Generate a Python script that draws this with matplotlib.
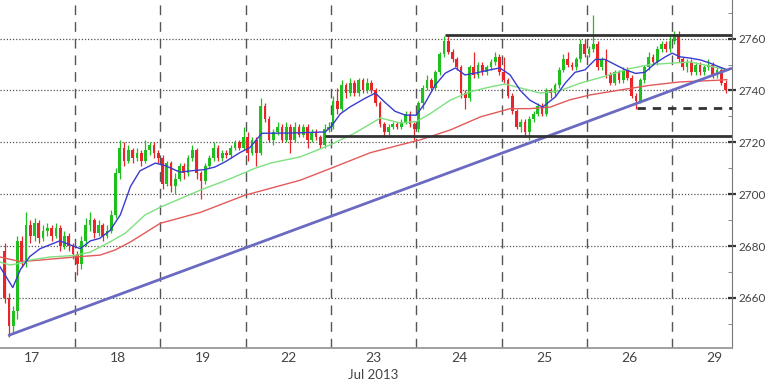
import numpy as np
import matplotlib.pyplot as plt

plt.rcParams['font.family'] = ['Lato', 'DejaVu Sans']

# trading days shown, candles per day (first day is cut by the left edge)
days = ['17', '18', '19', '22', '23', '24', '25', '26', '29']
per_day = 20
first_slot = 3
first_open = 2678

closes = [
    2660, 2649, 2655, 2682, 2674, 2688, 2684, 2689, 2683, 2686, 2687, 2684, 2687, 2680, 2684, 2680, 2677,
    2673, 2682, 2688, 2690, 2685, 2688, 2684, 2686, 2692, 2708, 2718, 2713, 2717, 2714, 2716, 2713, 2717, 2719, 2716, 2714,
    2704, 2712, 2703, 2706, 2711, 2708, 2714, 2717, 2708, 2705, 2711, 2714, 2718, 2714, 2716, 2715, 2718, 2720, 2718, 2722,
    2716, 2721, 2716, 2734, 2729, 2721, 2724, 2726, 2721, 2726, 2721, 2726, 2723, 2726, 2721, 2724, 2722, 2719, 2725, 2726,
    2736, 2733, 2742, 2739, 2743, 2739, 2744, 2740, 2743, 2740, 2735, 2727, 2724, 2726, 2727, 2726, 2728, 2731, 2727, 2725,
    2735, 2741, 2744, 2741, 2747, 2754, 2759, 2755, 2752, 2749, 2739, 2737, 2749, 2746, 2750, 2747, 2749, 2751, 2753, 2747,
    2744, 2738, 2732, 2726, 2728, 2724, 2729, 2731, 2734, 2731, 2740, 2739, 2742, 2748, 2752, 2750, 2749, 2752, 2758, 2754,
    2756, 2758, 2749, 2752, 2746, 2743, 2747, 2744, 2748, 2745, 2738, 2736, 2744, 2749, 2753, 2751, 2756, 2758, 2756, 2759,
    2761, 2752, 2749, 2751, 2747, 2750, 2747, 2749, 2750, 2746, 2748, 2743, 2740,
]
highs = [
    2681, 2662, 2657, 2684, 2684, 2693, 2690, 2691, 2690, 2688, 2689, 2688, 2689, 2688, 2686, 2685, 2681,
    2678, 2684, 2691, 2693, 2691, 2690, 2689, 2688, 2694, 2710, 2721, 2720, 2719, 2718, 2718, 2717, 2721, 2720, 2720, 2717,
    2715, 2713, 2713, 2708, 2712, 2712, 2715, 2719, 2718, 2709, 2712, 2715, 2720, 2719, 2717, 2717, 2719, 2721, 2721, 2726,
    2724, 2722, 2722, 2737, 2735, 2730, 2725, 2728, 2727, 2728, 2727, 2728, 2727, 2727, 2727, 2725, 2725, 2723, 2727, 2728,
    2738, 2741, 2744, 2743, 2745, 2744, 2745, 2745, 2745, 2744, 2741, 2736, 2728, 2727, 2728, 2728, 2729, 2732, 2732, 2728,
    2736, 2742, 2746, 2745, 2748, 2755, 2761, 2761, 2756, 2753, 2750, 2740, 2750, 2755, 2751, 2751, 2750, 2752, 2755, 2754,
    2753, 2745, 2739, 2733, 2729, 2729, 2730, 2732, 2735, 2735, 2741, 2741, 2743, 2749, 2754, 2755, 2751, 2753, 2760, 2760,
    2757, 2769, 2759, 2753, 2756, 2747, 2748, 2748, 2749, 2749, 2746, 2739, 2745, 2750, 2755, 2754, 2757, 2759, 2759, 2761,
    2763, 2763, 2753, 2752, 2752, 2751, 2751, 2750, 2752, 2751, 2749, 2749, 2744,
]
lows = [
    2658, 2645, 2647, 2652, 2672, 2672, 2681, 2682, 2681, 2682, 2684, 2682, 2683, 2678, 2679, 2678, 2675,
    2669, 2671, 2680, 2686, 2683, 2684, 2682, 2683, 2685, 2691, 2706, 2711, 2712, 2712, 2713, 2711, 2712, 2715, 2714, 2712,
    2702, 2703, 2701, 2700, 2705, 2706, 2707, 2713, 2706, 2698, 2704, 2710, 2713, 2713, 2713, 2714, 2714, 2717, 2717, 2717,
    2713, 2715, 2711, 2715, 2728, 2720, 2719, 2723, 2720, 2720, 2716, 2720, 2722, 2722, 2718, 2720, 2721, 2718, 2718, 2724,
    2725, 2731, 2732, 2737, 2738, 2738, 2738, 2739, 2739, 2739, 2734, 2726, 2722, 2723, 2725, 2725, 2725, 2727, 2726, 2721,
    2724, 2733, 2740, 2740, 2740, 2746, 2753, 2754, 2751, 2748, 2737, 2733, 2736, 2745, 2745, 2746, 2746, 2748, 2750, 2746,
    2743, 2737, 2731, 2725, 2724, 2722, 2721, 2728, 2730, 2730, 2730, 2737, 2738, 2741, 2747, 2749, 2748, 2748, 2751, 2753,
    2753, 2755, 2748, 2748, 2745, 2742, 2742, 2743, 2743, 2744, 2737, 2733, 2735, 2743, 2748, 2750, 2750, 2755, 2755, 2755,
    2758, 2751, 2748, 2747, 2746, 2746, 2746, 2746, 2748, 2745, 2745, 2742, 2739,
]

# moving averages (x in trading-day units)
ma_fast_x = [0.12, 0.27, 0.36, 0.47, 0.59, 0.82, 1.06, 1.18, 1.29, 1.41, 1.53, 1.65, 1.76, 1.94, 2.06,
             2.23, 2.35, 2.52, 2.64, 2.76, 2.93, 3.05, 3.19, 3.52, 3.93, 4.00, 4.11, 4.22, 4.40, 4.52,
             4.63, 4.75, 4.87, 5.00, 5.10, 5.22, 5.34, 5.46, 5.57, 5.69, 5.87, 5.98, 6.10, 6.22, 6.33,
             6.48, 6.63, 6.75, 6.86, 6.98, 7.10, 7.21, 7.33, 7.45, 7.57, 7.68, 7.80, 7.92, 8.00, 8.09,
             8.21, 8.33, 8.44, 8.56, 8.64]
ma_fast = [2672, 2664, 2671, 2676, 2679, 2682, 2679, 2682, 2683, 2686, 2692, 2703, 2709, 2712, 2711,
           2708.5, 2709, 2709.5, 2710.5, 2712.5, 2716, 2718, 2723.5, 2723.6, 2724, 2726, 2731, 2733.6, 2737, 2739,
           2735.5, 2732, 2730.5, 2730.5, 2735, 2742, 2746.7, 2748.7, 2746, 2746.7, 2748, 2748.7, 2746, 2740, 2736.3,
           2733.6, 2737.5, 2743, 2747, 2748, 2752, 2752, 2750, 2748, 2746.6, 2747, 2750.5, 2753, 2754.4, 2753,
           2752.5, 2751.8, 2750.6, 2749, 2748]
ma_mid_x = [0.12, 0.24, 0.36, 0.47, 0.71, 1.00, 1.18, 1.41, 1.59, 1.82, 2.00, 2.47, 2.82, 3.11, 3.29,
            3.64, 3.99, 4.28, 4.58, 4.81, 5.00, 5.16, 5.40, 5.63, 5.87, 6.04, 6.22, 6.45, 6.69, 6.92,
            7.16, 7.51, 7.74, 8.21, 8.56, 8.64]
ma_mid = [2673.8, 2672.7, 2673.4, 2674.6, 2675.8, 2676.4, 2677.7, 2681.6, 2685, 2692, 2695, 2701.6, 2706, 2710, 2712,
          2714.4, 2719, 2723.6, 2729.4, 2727.5, 2728, 2731, 2736.3, 2739.5, 2741.4, 2742.5, 2741, 2739, 2740, 2742.8,
          2745, 2748.5, 2750, 2751, 2748.6, 2748]
ma_slow_x = [0.12, 0.36, 0.59, 1.00, 1.29, 1.47, 1.65, 2.00, 2.47, 2.99, 3.64, 4.00, 4.46, 4.81, 5.05,
             5.40, 5.75, 6.10, 6.33, 6.57, 6.80, 7.04, 7.39, 7.74, 8.09, 8.56, 8.64]
ma_slow = [2675.8, 2674, 2674.6, 2675.8, 2676.5, 2678.5, 2681.6, 2688.8, 2693, 2699.6, 2705.4, 2710, 2716, 2719, 2721,
           2724.8, 2729.8, 2733, 2733, 2733.6, 2736.4, 2738.3, 2740.2, 2742, 2743.3, 2744, 2744.2]

# drawn-in analysis lines
trend_x = [0.215, 8.70]
trend_y = [2645.5, 2748.6]
resist_level, resist_from = 2761.5, 5.34
support_level, support_from = 2722.3, 3.93
dashed_level, dashed_from = 2733.3, 7.59

# candle x positions
counts = [per_day - first_slot] + [per_day] * (len(days) - 2) + [len(closes) - (per_day - first_slot) - per_day * (len(days) - 2)]
xs = []
for d, n in enumerate(counts):
    start = first_slot if d == 0 else 0
    for k in range(start, start + n):
        xs.append(d + (k + 0.5) / per_day)
xs = np.array(xs)
c = np.array(closes, float)
o = np.concatenate([[first_open], c[:-1]])
h = np.array(highs, float)
l = np.array(lows, float)

fig = plt.figure(figsize=(7.68, 3.84), dpi=100)
ax = fig.add_axes([0.0, 0.0938, 0.953, 0.9062])
xmin, xmax = 0.12, 8.70
ax.set_xlim(xmin, xmax)
ax.set_ylim(2640.7, 2774.9)

# grid
for v in range(2660, 2761, 20):
    ax.axhline(v, color='#555555', lw=0.9, ls=(0, (1, 1.5)), zorder=1)
for d in range(1, len(days)):
    ax.axvline(d, color='#555555', lw=1.0, ls=(0, (7, 5)), zorder=1)

up = c >= o
green, red = '#1fbf1f', '#e8262a'
cols = np.where(up, green, red)
ax.vlines(xs, l, h, colors=cols, lw=0.9, zorder=3)
body = np.where(np.abs(c - o) < 0.4, 0.4, c - o)
ax.bar(xs, body, bottom=o, width=0.032, color=cols, lw=0, zorder=3)

ax.plot(ma_slow_x, ma_slow, color='#e25a5a', lw=1.0, zorder=4)
ax.plot(ma_mid_x, ma_mid, color='#7fe07f', lw=1.0, zorder=4)
ax.plot(ma_fast_x, ma_fast, color='#3a3ad0', lw=1.0, zorder=4)

ax.plot(trend_x, trend_y, color='#6a6ac2', lw=2.0, zorder=5, solid_capstyle='butt')
ax.hlines(resist_level, resist_from, xmax, color='#333333', lw=2.0, zorder=5)
ax.hlines(support_level, support_from, xmax, color='#333333', lw=2.0, zorder=5)
ax.hlines(dashed_level, dashed_from, xmax, color='#333333', lw=2.0, ls=(0, (3, 2.5)), zorder=5)

# axes styling
for s in ['left', 'top']:
    ax.spines[s].set_visible(False)
ax.spines['right'].set_color('#777777')
ax.spines['bottom'].set_color('#999999')
ax.spines['bottom'].set_linewidth(1.3)
ax.yaxis.tick_right()
ax.set_yticks(range(2660, 2761, 20))
ax.set_yticks(range(2650, 2771, 20), minor=True)
ax.tick_params(axis='y', which='major', direction='inout', length=6, width=1.6,
               color='#333333', labelsize=8.5, labelcolor='#444444', pad=2)
ax.tick_params(axis='y', which='minor', direction='in', length=3, color='#777777')
ax.set_xticks([d + 0.5 for d in range(len(days))])
ax.set_xticklabels(days)
ax.tick_params(axis='x', length=0, labelsize=10, labelcolor='#444444', pad=3)
ax.text(4.5, -0.077, 'Jul 2013', transform=ax.get_xaxis_transform(), ha='center', va='center',
        fontsize=9.5, color='#444444')

fig.savefig('out.png', dpi=100)
plt.close(fig)
